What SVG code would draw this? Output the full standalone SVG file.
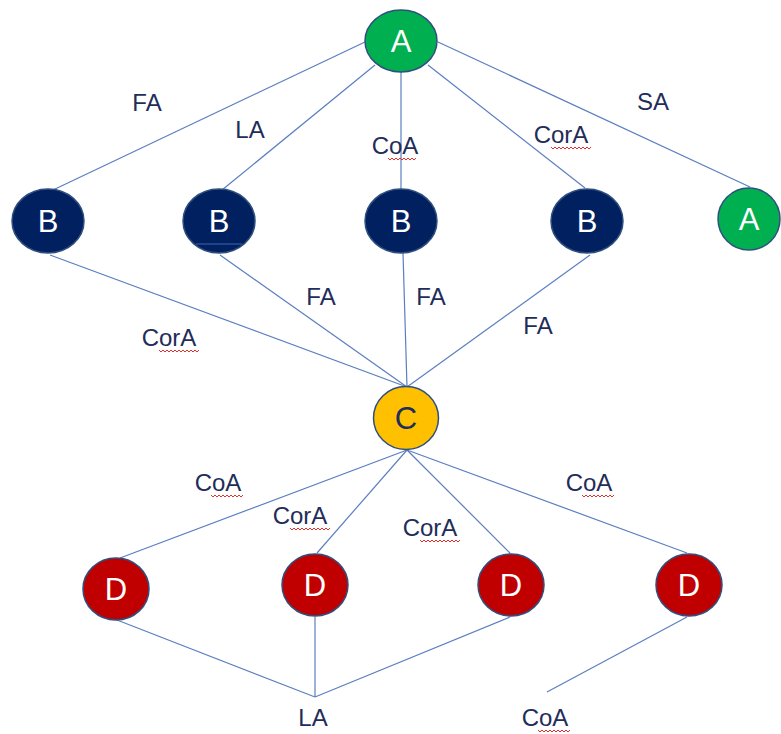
<svg xmlns="http://www.w3.org/2000/svg" width="781" height="734" viewBox="0 0 781 734">
<style>
.edge{stroke:#5B7FC0;stroke-width:1.2;fill:none}
.node{stroke:#2F4F7F;stroke-width:1.5}
.g{fill:#00B050}
.b{fill:#002060}
.c{fill:#FFC000}
.d{fill:#C00000}
.nl{font-family:"Liberation Sans",Arial,sans-serif;font-size:31px;text-anchor:middle;fill:#fff}
.lbl{font-family:"Liberation Sans",Arial,sans-serif;font-size:24px;text-anchor:middle;fill:#1F2D5A}
.sq{stroke:#E03030;stroke-width:1;fill:none}
</style>
<rect width="781" height="734" fill="#fff"/>
<g id="connectors">
<line class="edge" x1="365" y1="42" x2="53" y2="190"/>
<line class="edge" x1="375" y1="65" x2="222" y2="190"/>
<line class="edge" x1="401" y1="72" x2="401" y2="190"/>
<line class="edge" x1="428" y1="65" x2="585" y2="188"/>
<line class="edge" x1="438" y1="42" x2="750" y2="187"/>
<line class="edge" x1="50" y1="255" x2="407" y2="387"/>
<line class="edge" x1="220" y1="255" x2="407" y2="387"/>
<line class="edge" x1="403" y1="253" x2="407" y2="387"/>
<line class="edge" x1="590" y1="255" x2="407" y2="387"/>
<line class="edge" x1="407" y1="450" x2="120" y2="558"/>
<line class="edge" x1="407" y1="450" x2="317" y2="553"/>
<line class="edge" x1="407" y1="450" x2="510" y2="553"/>
<line class="edge" x1="407" y1="450" x2="687" y2="553"/>
<line class="edge" x1="117" y1="620" x2="315" y2="697"/>
<line class="edge" x1="315" y1="617" x2="315" y2="697"/>
<line class="edge" x1="510" y1="617" x2="315" y2="697"/>
<line class="edge" x1="687" y1="617" x2="547" y2="692"/>
</g>
<g id="nodeA1"><ellipse class="node g" cx="401" cy="41" rx="36" ry="31"/><text class="nl" x="401" y="52">A</text></g>
<g id="nodeB1"><ellipse class="node b" cx="48" cy="221" rx="36" ry="32"/><text class="nl" x="48" y="232">B</text></g>
<g id="nodeB2"><ellipse class="node b" cx="219" cy="221" rx="36" ry="32"/><text class="nl" x="219" y="232">B</text><line x1="196" y1="244" x2="242" y2="244" stroke="#3F64B0" stroke-width="1.2"/></g>
<g id="nodeB3"><ellipse class="node b" cx="401" cy="221" rx="36" ry="32"/><text class="nl" x="401" y="232">B</text></g>
<g id="nodeB4"><ellipse class="node b" cx="587" cy="221" rx="36" ry="32"/><text class="nl" x="587" y="232">B</text></g>
<g id="nodeA2"><ellipse class="node g" cx="749" cy="219" rx="31" ry="31"/><text class="nl" x="749" y="230">A</text></g>
<g id="nodeC"><ellipse class="node c" cx="406" cy="418" rx="32.5" ry="31.5"/><text class="nl" x="406" y="429" style="fill:#1F2D5A">C</text></g>
<g id="nodeD1"><ellipse class="node d" cx="116" cy="589" rx="33" ry="31"/><text class="nl" x="116" y="600">D</text></g>
<g id="nodeD2"><ellipse class="node d" cx="315" cy="585" rx="33" ry="31"/><text class="nl" x="315" y="596">D</text></g>
<g id="nodeD3"><ellipse class="node d" cx="511" cy="585" rx="33" ry="31"/><text class="nl" x="511" y="596">D</text></g>
<g id="nodeD4"><ellipse class="node d" cx="689" cy="585" rx="33" ry="31"/><text class="nl" x="689" y="596">D</text></g>
<g id="labels">
<text class="lbl" x="147" y="111">FA</text>
<text class="lbl" x="250" y="138">LA</text>
<text class="lbl" x="395" y="154">CoA</text>
<text class="lbl" x="561" y="143">CorA</text>
<text class="lbl" x="653" y="110">SA</text>
<text class="lbl" x="321" y="305">FA</text>
<text class="lbl" x="431" y="305">FA</text>
<text class="lbl" x="169" y="346">CorA</text>
<text class="lbl" x="538" y="334">FA</text>
<text class="lbl" x="218" y="491">CoA</text>
<text class="lbl" x="300" y="524">CorA</text>
<text class="lbl" x="430" y="536">CorA</text>
<text class="lbl" x="589" y="491">CoA</text>
<text class="lbl" x="313" y="726">LA</text>
<text class="lbl" x="545" y="726">CoA</text>
</g>
<g id="spellcheck">
<path class="sq" d="M388 158 l2 2 l2 -2 l2 2 l2 -2 l2 2 l2 -2 l2 2 l2 -2 l2 2 l2 -2 l2 2 l2 -2 l2 2 l2 -2"/>
<path class="sq" d="M551 147 l2 2 l2 -2 l2 2 l2 -2 l2 2 l2 -2 l2 2 l2 -2 l2 2 l2 -2 l2 2 l2 -2 l2 2 l2 -2 l2 2 l2 -2 l2 2 l2 -2 l2 2 l2 -2"/>
<path class="sq" d="M159 350 l2 2 l2 -2 l2 2 l2 -2 l2 2 l2 -2 l2 2 l2 -2 l2 2 l2 -2 l2 2 l2 -2 l2 2 l2 -2 l2 2 l2 -2 l2 2 l2 -2 l2 2 l2 -2"/>
<path class="sq" d="M211 495 l2 2 l2 -2 l2 2 l2 -2 l2 2 l2 -2 l2 2 l2 -2 l2 2 l2 -2 l2 2 l2 -2 l2 2 l2 -2 l2 2 l2 -2"/>
<path class="sq" d="M290 528 l2 2 l2 -2 l2 2 l2 -2 l2 2 l2 -2 l2 2 l2 -2 l2 2 l2 -2 l2 2 l2 -2 l2 2 l2 -2 l2 2 l2 -2 l2 2 l2 -2 l2 2 l2 -2"/>
<path class="sq" d="M420 540 l2 2 l2 -2 l2 2 l2 -2 l2 2 l2 -2 l2 2 l2 -2 l2 2 l2 -2 l2 2 l2 -2 l2 2 l2 -2 l2 2 l2 -2 l2 2 l2 -2 l2 2 l2 -2"/>
<path class="sq" d="M582 495 l2 2 l2 -2 l2 2 l2 -2 l2 2 l2 -2 l2 2 l2 -2 l2 2 l2 -2 l2 2 l2 -2 l2 2 l2 -2 l2 2 l2 -2"/>
<path class="sq" d="M538 730 l2 2 l2 -2 l2 2 l2 -2 l2 2 l2 -2 l2 2 l2 -2 l2 2 l2 -2 l2 2 l2 -2 l2 2 l2 -2 l2 2 l2 -2"/>
</g>
</svg>
